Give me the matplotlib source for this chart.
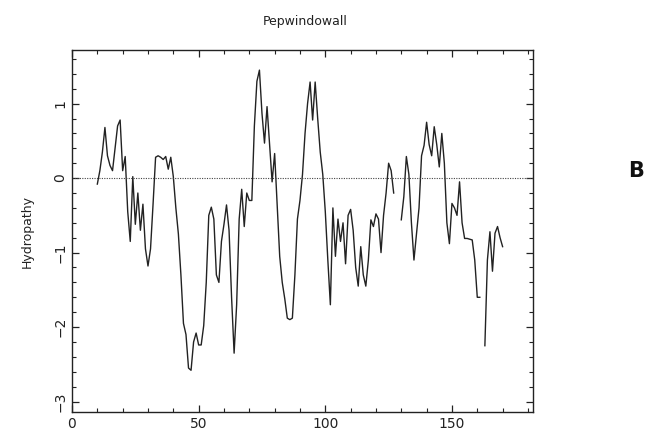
import numpy as np
import matplotlib
matplotlib.use("Agg")
import matplotlib.pyplot as plt
from matplotlib.ticker import MultipleLocator

# residue position and hydropathy (window average); NaN = gap in the profile
residue = list(range(10, 171))
hydropathy = [
    -0.08, 0.10, 0.35, 0.68, 0.30, 0.17, 0.10, 0.40, 0.70, 0.78,      # 10-19
    0.10, 0.29, -0.45, -0.85, 0.02, -0.62, -0.20, -0.70, -0.35, -0.95,  # 20-29
    -1.18, -0.95, -0.35, 0.28, 0.30, 0.28, 0.25, 0.29, 0.12, 0.28,      # 30-39
    0.02, -0.40, -0.75, -1.30, -1.95, -2.10, -2.55, -2.58, -2.20, -2.08,  # 40-49
    -2.24, -2.24, -1.98, -1.40, -0.50, -0.39, -0.55, -1.30, -1.40, -0.85,  # 50-59
    -0.62, -0.36, -0.70, -1.60, -2.35, -1.70, -0.55, -0.15, -0.65, -0.20,  # 60-69
    -0.30, -0.30, 0.70, 1.30, 1.45, 0.87, 0.47, 0.96, 0.45, -0.05,      # 70-79
    0.33, -0.35, -1.05, -1.40, -1.62, -1.88, -1.90, -1.88, -1.30, -0.55,  # 80-89
    -0.30, 0.05, 0.60, 1.00, 1.29, 0.78, 1.29, 0.80, 0.35, 0.05,        # 90-99
    -0.45, -1.10, -1.70, -0.40, -1.05, -0.55, -0.85, -0.60, -1.15, -0.50,  # 100-109
    -0.42, -0.70, -1.20, -1.45, -0.92, -1.30, -1.45, -1.10, -0.56, -0.65,  # 110-119
    -0.48, -0.55, -1.00, -0.50, -0.20, 0.20, 0.10, -0.20, np.nan, np.nan,  # 120-129
    -0.56, -0.25, 0.29, 0.05, -0.60, -1.10, -0.75, -0.40, 0.30, 0.44,   # 130-139
    0.75, 0.45, 0.30, 0.69, 0.45, 0.15, 0.60, 0.20, -0.60, -0.88,       # 140-149
    -0.34, -0.40, -0.50, -0.05, -0.60, -0.81, -0.81, -0.82, -0.83, -1.10,  # 150-159
    -1.60, -1.60, np.nan, -2.25, -1.10, -0.72, -1.25, -0.74, -0.65, -0.80,  # 160-169
    -0.92,                                                              # 170
]

fig = plt.figure(figsize=(6.69, 4.34), dpi=100)
ax = fig.add_axes([72 / 669, 22 / 434, 461 / 669, 362 / 434])

ax.plot(residue, hydropathy, color="#222222", lw=1.0)
ax.axhline(0, color="#444444", lw=0.8, ls=(0, (1, 1.2)))

ax.set_xlim(0, 182)
ax.set_ylim(-3.14, 1.72)
ax.xaxis.set_major_locator(MultipleLocator(50))
ax.xaxis.set_minor_locator(MultipleLocator(10))
ax.yaxis.set_major_locator(MultipleLocator(1))
ax.yaxis.set_minor_locator(MultipleLocator(0.2))
ax.tick_params(which="both", direction="in", top=True, right=True,
               labelsize=10, colors="#222222")
ax.tick_params(which="major", length=5, width=0.9)
ax.tick_params(which="minor", length=2.8, width=0.8)
for lab in ax.get_yticklabels():
    lab.set_rotation(90)
    lab.set_va("center")
for sp in ax.spines.values():
    sp.set_linewidth(1.0)
    sp.set_color("#222222")

ax.set_ylabel("Hydropathy", fontsize=9, labelpad=14, color="#222222")
fig.text(305 / 669, 1 - 22 / 434, "Pepwindowall", ha="center", va="center",
         fontsize=9, color="#222222")
fig.text(636 / 669, 1 - 171 / 434, "B", ha="center", va="center",
         fontsize=15, fontweight="bold", color="#111111")

fig.savefig("out.png", dpi=100)
